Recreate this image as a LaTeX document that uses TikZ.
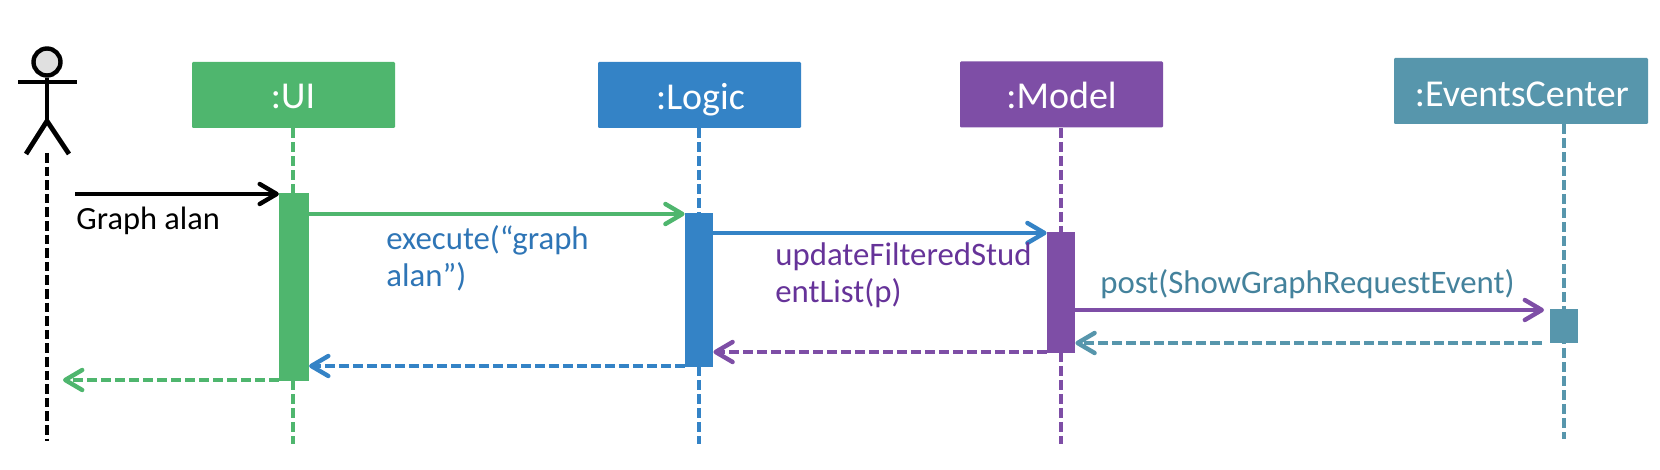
\documentclass[tikz,border=0pt]{standalone}
\usepackage{fontspec}
\setmainfont{Carlito}
\usetikzlibrary{arrows.meta,calc}
\definecolor{cgreen}{HTML}{4FB66E}
\definecolor{cblue}{HTML}{3483C6}
\definecolor{cpurple}{HTML}{7E4EA6}
\definecolor{cteal}{HTML}{5796AC}
\definecolor{tblue}{HTML}{2E75B6}
\definecolor{tpurple}{HTML}{663399}
\definecolor{tteal}{HTML}{44829C}
\tikzset{
  px/.style={x=0.5pt,y=-0.5pt},
  headbox/.style={fill=#1,text=white,rounded corners=0.6pt,minimum width=101.5pt,minimum height=33pt,inner sep=0pt},
  headtext/.style={text=white,inner sep=0pt,anchor=base,font=\fontsize{19}{22}\selectfont},
  act/.style={fill=#1,minimum width=14pt,inner sep=0pt,anchor=north},
  life/.style={draw=#1,line width=1.55pt,dash pattern=on 5pt off 2pt},
  tipbarb/.style={-{Straight Barb[length=8.5pt,width=10pt,line width=2.2pt,round]}},
  msg/.style={draw=#1,line width=1.7pt,tipbarb},
  ret/.style={draw=#1,line width=1.7pt,dash pattern=on 5pt off 2pt,tipbarb},
  lbl/.style={text=#1,anchor=base west,inner sep=0pt,font=\fontsize{16.4}{18}\selectfont},
  stick/.style={draw=black,line width=2.4pt},
}
\begin{document}
\begin{tikzpicture}[px]
\useasboundingbox (0,0) rectangle (1660,470);
% header boxes
\node[headbox=cgreen] (ui) at (293.5,95) {};
\node[headbox=cblue] (logic) at (699.5,95) {};
\node[headbox=cpurple] (model) at (1061.5,94.5) {};
\node[headbox=cteal,minimum width=127pt] (events) at (1521,91) {};
\node[headtext] (uit) at (293,109) {:UI};
\node[headtext] (logict) at (700.5,110) {:Logic};
\node[headtext] (modelt) at (1061.5,109) {:Model};
\node[headtext,anchor=base west] (eventst) at (1414.5,107) {:EventsCenter};
% lifeline ends
\coordinate (uiEnd) at (293,444);
\coordinate (logicEnd) at (699,444);
\coordinate (modelEnd) at (1061,444);
\coordinate (eventsEnd) at (1564,439);
\coordinate (actorTop) at (47,153);
\coordinate (actorEnd) at (47,441);
% lifelines
\draw[life=cgreen] (ui.south -| uiEnd) -- (uiEnd);
\draw[life=cblue] (logic.south -| logicEnd) -- (logicEnd);
\draw[life=cpurple] (model.south -| modelEnd) -- (modelEnd);
\draw[life=cteal] (events.south -| eventsEnd) -- (eventsEnd);
\draw[line width=1.8pt,dash pattern=on 4.8pt off 2pt] (actorTop) -- (actorEnd);
% actor
\node[circle,draw=black,fill=black!12,line width=2.2pt,minimum size=13.5pt,inner sep=0pt] (head) at (47,62) {};
\coordinate (armL) at (18,82);
\coordinate (armR) at (77,82);
\coordinate (hip) at (47,121);
\coordinate (footL) at (26,154);
\coordinate (footR) at (69,154);
\draw[stick] (armL) -- (armR);
\draw[stick] (head.south) -- (hip);
\draw[stick] (footL) -- (hip) -- (footR);
% activations
\node[act=cgreen,minimum height=94pt,minimum width=14.7pt] (uiA) at (294,193) {};
\node[act=cblue,minimum height=77pt] (logicA) at (699,213) {};
\node[act=cpurple,minimum height=60.5pt] (modelA) at (1061,232) {};
\node[act=cteal,minimum height=17pt] (eventsA) at (1564,309) {};
% message anchors
\coordinate (m1s) at (75,194);
\coordinate (r1e) at (63,380);
\coordinate (r4s) at (1542,343);
\coordinate (m4e) at (1544,310);
% messages
\draw[msg=black] (m1s) -- (uiA.west |- m1s);
\draw[msg=cgreen] (uiA.east |- 0,214) -- (logicA.west |- 0,214);
\draw[msg=cblue] (logicA.east |- 0,233) -- (modelA.west |- 0,233);
\draw[msg=cpurple] (modelA.east |- m4e) -- (m4e);
\draw[ret=cteal] (r4s) -- (modelA.east |- r4s);
\draw[ret=cpurple] (modelA.west |- 0,352) -- (logicA.east |- 0,352);
\draw[ret=cblue] (logicA.west |- 0,366) -- (uiA.east |- 0,366);
\draw[ret=cgreen] (uiA.west |- r1e) -- (r1e);
% labels
\node[lbl=black,font=\fontsize{16.2}{18}\selectfont] (l1) at (76,230) {Graph alan};
\node[lbl=tblue] (l2a) at (386,250) {execute(“graph};
\node[lbl=tblue] (l2b) at (386,287) {alan”)};
\node[lbl=tpurple] (l3a) at (775,266) {updateFilteredStud};
\node[lbl=tpurple] (l3b) at (775,303) {entList(p)};
\node[lbl=tteal] (l4) at (1100,293) {post(ShowGraphRequestEvent)};
\end{tikzpicture}
\end{document}
